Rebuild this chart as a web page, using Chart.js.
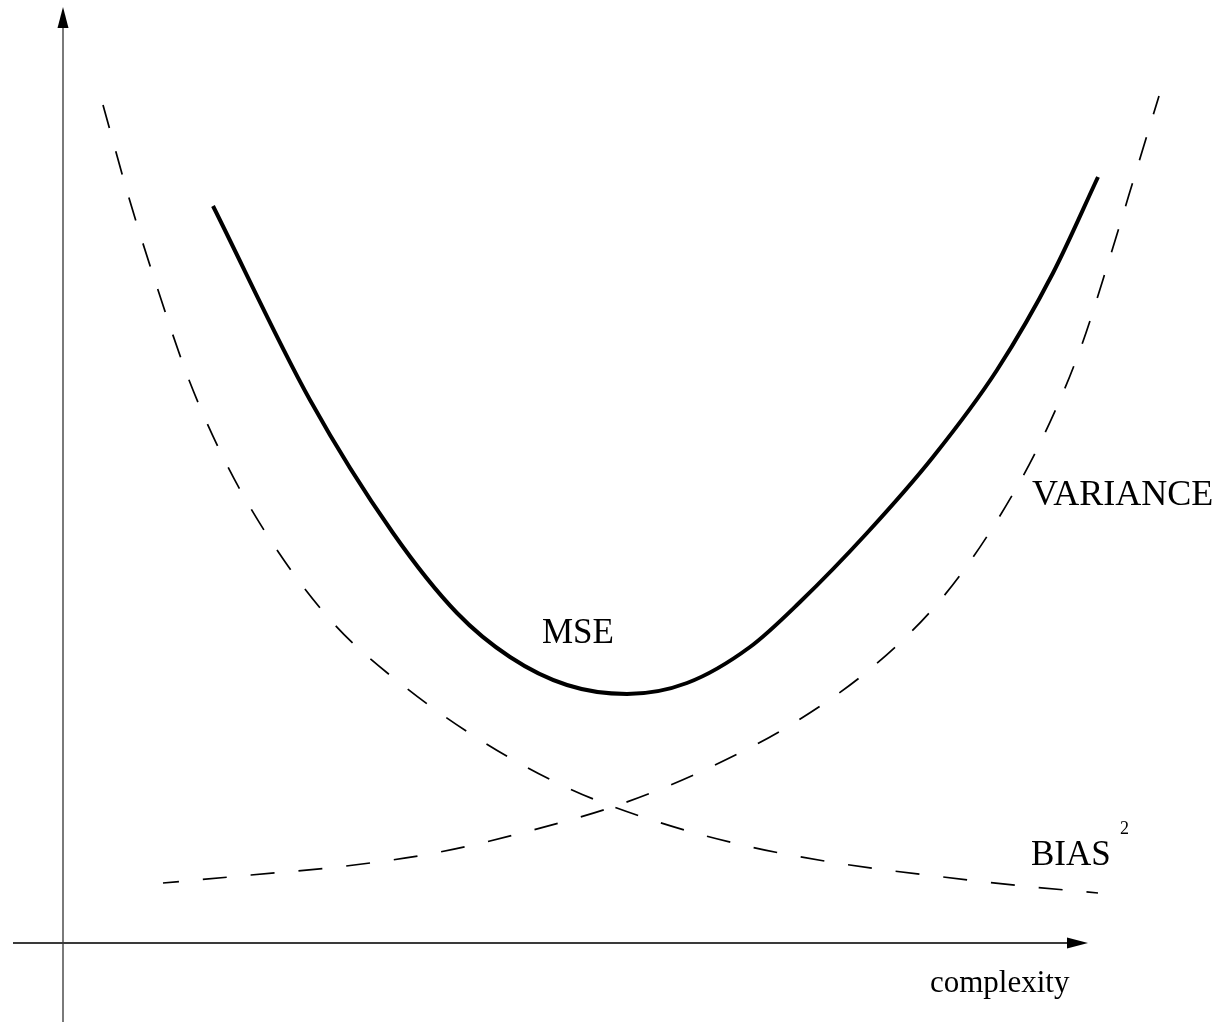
<!DOCTYPE html>
<html>
<head>
<meta charset="utf-8">
<script src="https://cdn.jsdelivr.net/npm/chart.js@4/dist/chart.umd.min.js"></script>
<style>
  html, body { margin: 0; padding: 0; background: #fff; }
  #wrap { width: 1220px; height: 1022px; }
</style>
</head>
<body>
<div id="wrap"><canvas id="c" width="1220" height="1022"></canvas></div>
<script>
// complexity (x) and error (y) readings, in chart units
const mseX = [15.0, 24.7, 33.0, 39.4, 44.7, 50.4, 56.4, 62.4, 68.7, 73.7, 80.4, 87.0, 93.4, 99.0, 103.5];
const mseY = [73.7, 54.3, 41.0, 33.0, 28.6, 25.8, 24.9, 26.0, 29.6, 34.1, 41.0, 48.6, 57.3, 67.0, 76.6];

const biasX = [4.0, 6.6, 9.5, 12.6, 16.5, 21.4, 27.2, 34.2, 42.2, 50.7, 59.5, 68.8, 78.0, 88.0, 96.0, 103.5];
const biasY = [83.8, 74.5, 65.3, 56.3, 47.6, 39.3, 31.8, 25.6, 20.0, 15.4, 12.1, 9.6, 7.9, 6.6, 5.7, 5.0];

const varX = [10.0, 18.8, 28.3, 37.7, 47.0, 56.1, 65.0, 73.4, 81.2, 88.0, 93.5, 98.1, 101.8, 104.7, 107.5, 109.6];
const varY = [6.0, 6.8, 7.7, 9.1, 11.3, 14.0, 17.7, 22.2, 27.8, 34.6, 42.4, 50.8, 59.6, 68.6, 77.8, 84.7];

// axis extents
const xAxisX = [-5.0, 100.5];
const yAxisY = [-8.0, 91.5];

// labels
const labels = [
  { text: 'MSE', x: 47.9, y: 30.0, size: 35 },
  { text: 'VARIANCE', x: 96.9, y: 43.8, size: 36 },
  { text: 'BIAS', x: 96.8, y: 7.8, size: 35 },
  { text: '2', x: 105.7, y: 10.9, size: 18 },
  { text: 'complexity', x: 86.7, y: -4.9, size: 31 }
];

const zip = (xs, ys) => xs.map((x, i) => ({ x, y: ys[i] }));

const overlay = {
  id: 'overlay',
  afterDatasetsDraw(chart) {
    const ctx = chart.ctx;
    const xs = chart.scales.x, ys = chart.scales.y;
    ctx.save();
    ctx.fillStyle = '#000';
    const xt = xs.getPixelForValue(xAxisX[1] + 2.0), xy = ys.getPixelForValue(0);
    ctx.beginPath();
    ctx.moveTo(xt, xy);
    ctx.lineTo(xt - 21, xy - 5.5);
    ctx.lineTo(xt - 21, xy + 5.5);
    ctx.closePath();
    ctx.fill();
    const yx = xs.getPixelForValue(0), yt = ys.getPixelForValue(yAxisY[1] + 2.1);
    ctx.beginPath();
    ctx.moveTo(yx, yt);
    ctx.lineTo(yx - 5.5, yt + 21);
    ctx.lineTo(yx + 5.5, yt + 21);
    ctx.closePath();
    ctx.fill();
    ctx.textBaseline = 'alphabetic';
    ctx.textAlign = 'left';
    labels.forEach(l => {
      ctx.font = l.size + 'px "Liberation Serif", "Times New Roman", serif';
      ctx.fillText(l.text, xs.getPixelForValue(l.x), ys.getPixelForValue(l.y));
    });
    ctx.restore();
  }
};

new Chart(document.getElementById('c'), {
  type: 'line',
  data: {
    datasets: [
      { label: 'x-axis', data: zip(xAxisX, [0, 0]), borderColor: '#3a3a3a', borderWidth: 2, pointRadius: 0, tension: 0 },
      { label: 'y-axis', data: zip([0, 0], yAxisY), borderColor: '#7a7a7a', borderWidth: 2, pointRadius: 0, tension: 0 },
      { label: 'BIAS^2', data: zip(biasX, biasY), borderColor: '#000', borderWidth: 1.7, borderDash: [24, 24], pointRadius: 0, cubicInterpolationMode: 'monotone' },
      { label: 'VARIANCE', data: zip(varX, varY), borderColor: '#000', borderWidth: 1.7, borderDash: [24, 24], borderDashOffset: 8, pointRadius: 0, cubicInterpolationMode: 'monotone' },
      { label: 'MSE', data: zip(mseX, mseY), borderColor: '#000', borderWidth: 4, pointRadius: 0, cubicInterpolationMode: 'monotone' }
    ]
  },
  options: {
    responsive: false,
    animation: false,
    devicePixelRatio: 1,
    layout: { padding: 0 },
    plugins: { legend: { display: false }, tooltip: { enabled: false } },
    scales: {
      x: { type: 'linear', min: -6.3, max: 115.7, display: false },
      y: { type: 'linear', min: -7.9, max: 94.3, display: false }
    },
    elements: { line: { borderCapStyle: 'butt', fill: false } }
  },
  plugins: [overlay]
});
</script>
</body>
</html>
